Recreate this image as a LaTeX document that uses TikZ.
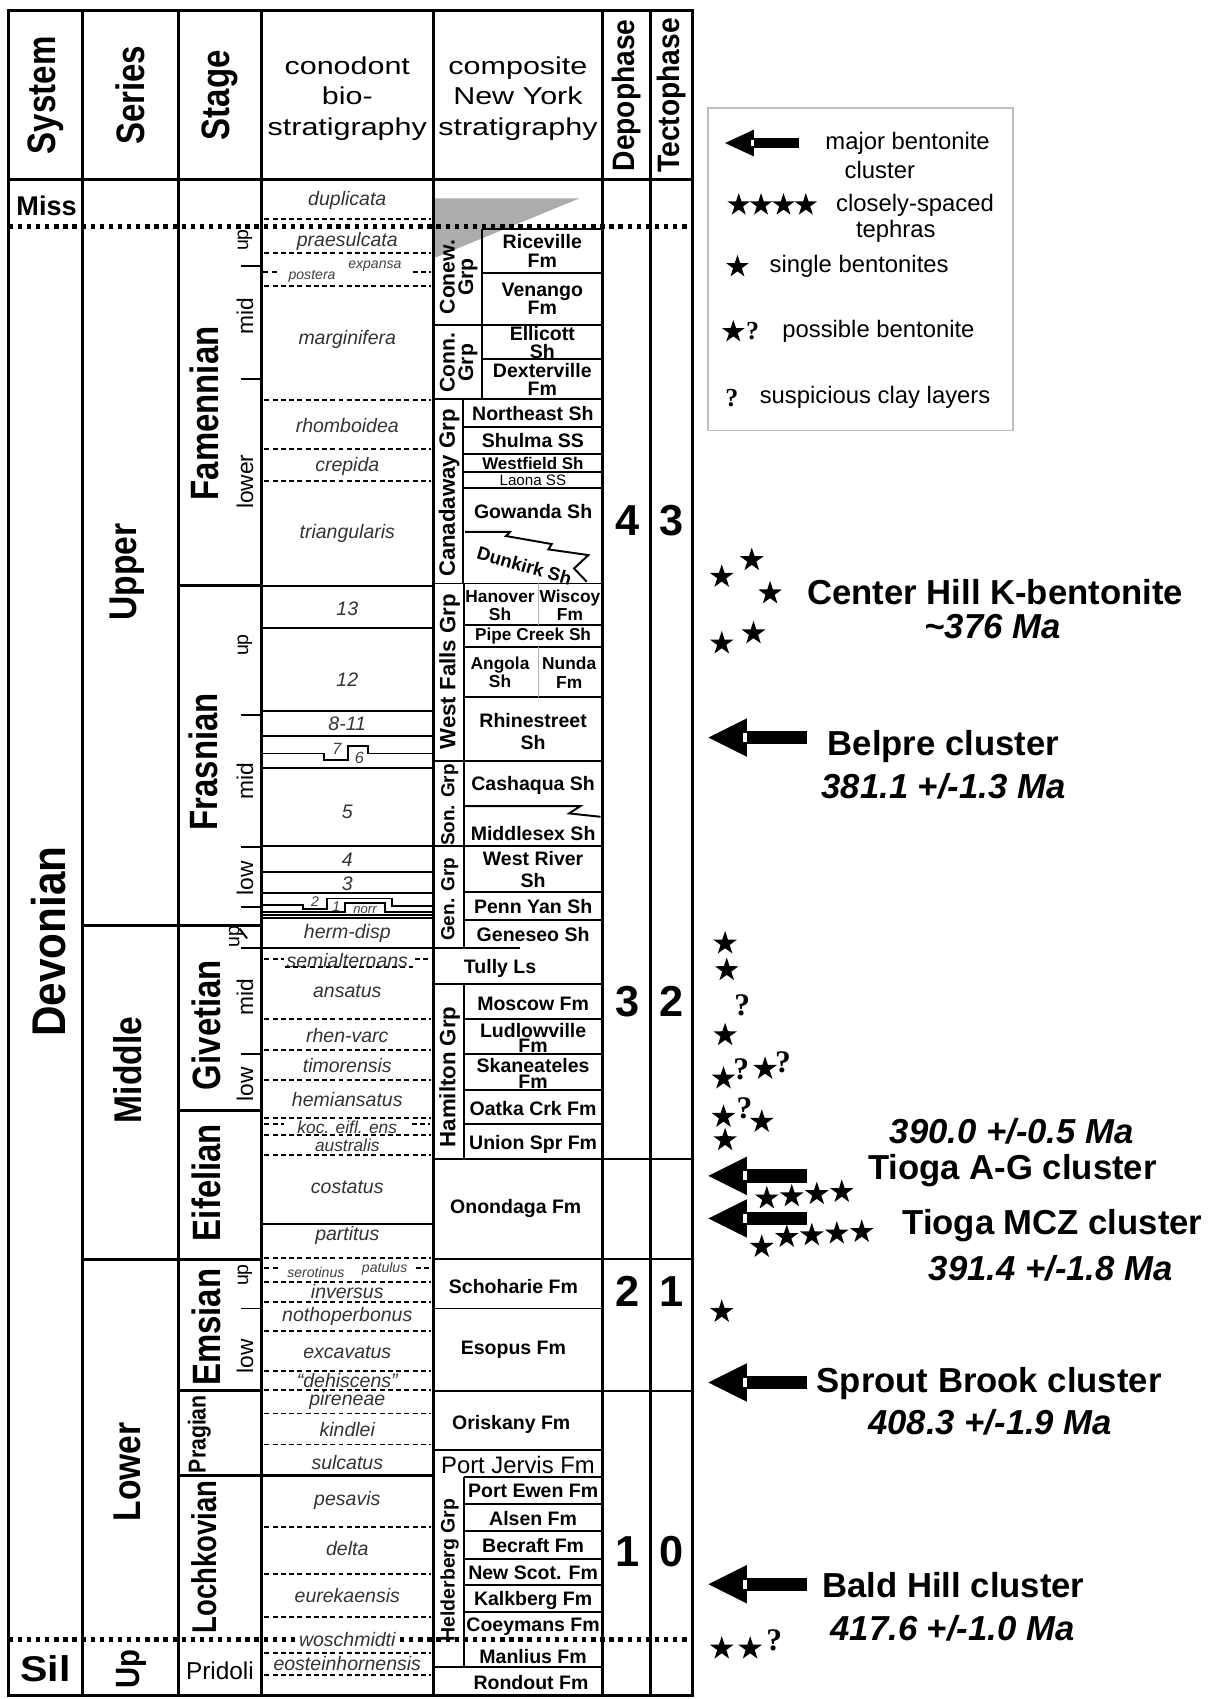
\documentclass[tikz,border=0pt]{standalone}
\usepackage{fontspec}
\setmainfont{Liberation Sans}
\newfontfamily\qmfont{Liberation Serif}
\usetikzlibrary{shapes.geometric}

\newcommand{\fsz}[2]{\fontsize{#1pt}{#2pt}\selectfont}
% cluster arrow: tip x, y, xscale, yscale
\newcommand{\clarrow}[4]{%
  \begin{scope}[shift={(#1,#2)}, xscale=#3, yscale=#4]
    \fill (0,0) -- (35.4,-17.7) -- (35.4,17.7) -- cycle;
    \fill (31,-6.2) rectangle (91,6.2);
    \filldraw[fill=white, draw=black, line width=0.8pt] (31,-4.6) rectangle (35.6,4.6);
  \end{scope}}

\begin{document}
\begin{tikzpicture}[x=1pt, y=-1pt,
  frameline/.style={line width=3pt},
  ruleline/.style={line width=1.8pt},
  hairline/.style={line width=0.8pt, gray!60},
  dotline/.style={line width=4pt, dash pattern=on 4pt off 4.4pt},
  zoneline/.style={line width=1.8pt, dash pattern=on 4.6pt off 3pt},
  hdr/.style={font=\fsz{30.5}{30.5}\bfseries, rotate=90, yscale=1.2, inner sep=0pt},
  colhdr/.style={font=\fsz{22.5}{28.5}, align=center, xscale=1.25, inner sep=0pt},
  phasehdr/.style={font=\fsz{26}{26}\bfseries, rotate=90, yscale=1.1, inner sep=0pt},
  phasenum/.style={font=\fsz{40}{40}\bfseries, inner sep=0pt},
  serieslab/.style={font=\fsz{31}{31}\bfseries, rotate=90, yscale=1.15, inner sep=0pt},
  stagelab/.style={font=\fsz{30.4}{30.4}\bfseries, rotate=90, yscale=1.2, inner sep=0pt},
  sublab/.style={font=\fsz{21}{21}, rotate=90, inner sep=0pt},
  cono/.style={font=\fsz{18}{18}\itshape, text=black!80, inner sep=0.5pt},
  conosm/.style={font=\fsz{13}{13}\itshape, text=black!75, inner sep=0.5pt},
  fmlab/.style={font=\fsz{18}{17}\bfseries, align=center, inner sep=0pt},
  grplab/.style={font=\fsz{20.5}{17}\bfseries, rotate=90, align=center, inner sep=0pt},
  bstar/.style={star, star points=5, star point ratio=2.6, fill=black, inner sep=0pt, minimum size=23pt},
  qmark/.style={font=\qmfont\bfseries\fsz{29}{29}, inner sep=0pt},
  clname/.style={font=\fsz{32}{32}\bfseries, inner sep=0pt},
  clage/.style={font=\fsz{32}{32}\bfseries\itshape, inner sep=0pt},
  legtext/.style={font=\fsz{22}{22}, inner sep=0pt}
]

% --- page ---
\fill[white] (0,0) rectangle (1115,1568);
\useasboundingbox (0,0) rectangle (1115,1568);

% --- grey wedge (Miss.) ---
\fill[gray!65] (401,183) -- (535,183) -- (401,238) -- cycle;

% --- frame and columns ---
\draw[frameline] (8,9.5) rectangle (639,1565);
\foreach \x in {76,165,241,400,556,600}
  \draw[frameline] (\x,9.5) -- (\x,1565);
\draw[frameline] (8,166) -- (639,166);
\draw[dotline] (8,209) -- (639,209);
\draw[dotline] (8,1513) -- (639,1513);

% series and stage boundaries
\draw[frameline] (76,853.8) -- (241,853.8);
\draw[frameline] (76,1162.5) -- (241,1162.5);
\foreach \y in {540.5,1025,1283}
  \draw[frameline] (165,\y) -- (241,\y);
\draw[frameline] (165,1362) -- (400,1362);

% substage ticks
\foreach \y in {245.5,350,660,782,837,875.3,973,1207.6}
  \draw[ruleline] (222,\y) -- (241,\y);
\draw[ruleline] (221,857) -- (228,866);

% --- conodont zones ---
\foreach \y in {541,580,656,679,709,781,805,824,844.6,847.4,875.3,1129.2}
  \draw[ruleline] (241,\y) -- (400,\y);
\foreach \y in {202.4,233.8,264,369.2,414.7,444,940.6,969.2,996.9,1032,1047.4,1066.1,1161.4,1183,1201.5,1228.2,1265.2,1283,1304.5,1333.1,1409.2,1452.2,1492.2,1525.4,1546.1}
  \draw[zoneline] (244,\y) -- (398,\y);
\draw[zoneline] (263,892.8) -- (382,892.8);
\foreach \y/\a/\b/\c/\d in {251/243/258/381/398, 885/244/262/383/396, 1037/244/262/380/397, 1170/244/258/384/397}{
  \draw[zoneline] (\a,\y) -- (\b,\y);
  \draw[zoneline] (\c,\y) -- (\d,\y);
}
% stepped zone boundaries
\draw[ruleline] (241,695.4) -- (298.7,695.4) -- (298.7,701.5) -- (321.4,701.5) -- (321.4,688.3) -- (339.9,688.3) -- (339.9,695.4) -- (400,695.4);
\draw[ruleline] (241,835.4) -- (279.9,835.4) -- (279.9,839) -- (301.6,839) -- (301.6,829.2) -- (361.5,829.2) -- (361.5,836.3) -- (400,836.3);
\draw[ruleline] (241,841.5) -- (318.4,841.5) -- (318.4,833.8) -- (355.4,833.8) -- (355.4,841.5) -- (400,841.5);

% --- New York units ---
\draw[ruleline] (445,211.7) -- (556,211.7);
\draw[ruleline] (445,211.7) -- (445,368);
\foreach \y in {251.7,331.7}
  \draw[ruleline] (445,\y) -- (556,\y);
\foreach \y in {299.7,368,538.5,702.5,781,908.5,1207.6,1338.4,1538.4}
  \draw[ruleline] (400,\y) -- (556,\y);
\foreach \y in {1070,1161.5,1283.5}
  \draw[ruleline] (400,\y) -- (639,\y);
\draw[ruleline] (427.6,368) -- (427.6,538.5);
\foreach \y in {394.4,419,436,450.7}
  \draw[ruleline] (427.6,\y) -- (556,\y);
\draw[ruleline] (428.5,538.5) -- (428.5,875.3);
\draw[ruleline] (428.5,908.5) -- (428.5,1070);
\draw[ruleline] (428.5,1363) -- (428.5,1538.4);
\foreach \y in {577,597,643,823,849,940.6,973,1006,1037.5,1363,1388.2,1413,1438.5,1463.1,1487.7}
  \draw[ruleline] (428.5,\y) -- (556,\y);
\draw[ruleline] (400,875.3) -- (480,875.3);
\draw[hairline] (496.5,538.5) -- (496.5,577);
\draw[hairline] (496.5,597) -- (496.5,643);
% interfingering contacts
\draw[ruleline] (429.2,490.8) -- (470.7,490.8) -- (467,494.7) -- (509.2,502.1) -- (506.1,507) -- (543,512.3) -- (529.8,524.6) -- (541.5,536.9);
\draw[ruleline] (428.5,743.9) -- (535.6,743.9) -- (525.3,750.7) -- (554.2,753.8);

% --- header texts ---
\node[hdr] (hsys) at (42,88) {System};
\node[hdr] (hser) at (120.5,88) {Series};
\node[hdr] (hstg) at (203,88) {Stage};
\node[colhdr] (hcono) at (320.5,91) {conodont\\bio-\\stratigraphy};
\node[colhdr] (hcomp) at (478,91) {composite\\New York\\stratigraphy};
\node[phasehdr] (hdep) at (578,88) {Depophase};
\node[phasehdr] (htec) at (620,88) {Tectophase};

% --- system / series / stage ---
\node[font=\fsz{25}{25}\bfseries] (miss) at (43,190) {Miss};
\node[font=\fsz{39}{39}\bfseries, rotate=90, yscale=1.12, inner sep=0pt] (dev) at (45,869) {Devonian};
\node[font=\fsz{33}{33}\bfseries, xscale=1.15, inner sep=0pt] (sil) at (42,1540) {Sil};
\node[serieslab] (upper) at (117,528) {Upper};
\node[serieslab] (middle) at (118,987.6) {Middle};
\node[serieslab] (lower) at (118,1358.4) {Lower};
\node[font=\fsz{27}{27}\bfseries, rotate=90, yscale=1.15, inner sep=0pt] (silup) at (121,1540) {Up};
\node[stagelab] (fam) at (189,381.5) {Famennian};
\node[stagelab] (fras) at (188,703) {Frasnian};
\node[stagelab] (giv) at (190,946) {Givetian};
\node[stagelab] (eif) at (190,1091.3) {Eifelian};
\node[stagelab] (ems) at (190,1225) {Emsian};
\node[font=\fsz{19.6}{19.6}\bfseries, rotate=90, yscale=1.15, inner sep=0pt] (prag) at (184,1323.6) {Pragian};
\node[font=\fsz{25.4}{25.4}\bfseries, rotate=90, yscale=1.25, inner sep=0pt] (loch) at (188,1436.8) {Lochkovian};
\node[font=\fsz{22.5}{22.5}, inner sep=0pt] (prid) at (203,1541.5) {Pridoli};
% substages
\node[sublab, font=\fsz{18}{18}] (famup) at (226,221.5) {up};
\node[sublab] (fammid) at (226,292) {mid};
\node[sublab] (famlow) at (226,444.6) {lower};
\node[sublab, font=\fsz{18}{18}] (frasup) at (226,595.3) {up};
\node[sublab] (frasmid) at (226,720.6) {mid};
\node[sublab] (fraslow) at (226,810.7) {low};
\node[sublab, font=\fsz{18}{18}] (givup) at (218,864.6) {up};
\node[sublab] (givmid) at (226,920.5) {mid};
\node[sublab] (givlow) at (226,1000.6) {low};
\node[sublab, font=\fsz{18}{18}] (emsup) at (226,1176.8) {up};
\node[sublab] (emslow) at (226,1251.6) {low};

% --- conodont zone names ---
\foreach \t/\y [count=\i] in {duplicata/185.2, praesulcata/223, marginifera/313.2, rhomboidea/392.3,
    crepida/430.1, triangularis/492.3, 13/561.5, 12/627.6, 8-11/668.3, 5/749.2, 4/793.8, 3/815.3,
    herm-disp/861.5, semialternans/886, ansatus/914.4, rhen-varc/955.3, timorensis/983,
    hemiansatus/1014.7, costatus/1095.3, partitus/1139.9, inversus/1192.2, nothoperbonus/1215.3,
    excavatus/1247.6, ``dehiscens''/1273.8, pireneae/1292.8, kindlei/1319.3, sulcatus/1350.1,
    pesavis/1384.5, delta/1429.1, eurekaensis/1472.2, eosteinhornensis/1535.3}
  \node[cono] (cz\i) at (320.5,\y) {\t};
\node[cono, fill=white] (czwo) at (320.5,1513) {woschmidti};
\node[cono, font=\fsz{16}{16}\itshape] (czkoc) at (320.5,1040) {koc. eifl. ens};
\node[cono, font=\fsz{16}{16}\itshape] (czaus) at (320.5,1056.9) {australis};
\node[conosm] (czpost) at (288,254.7) {postera};
\node[conosm] (czexp) at (346,245.5) {expansa};
\node[conosm] (czsero) at (291.5,1174.7) {serotinus};
\node[conosm] (czpat) at (355,1170.7) {patulus};
\node[conosm, font=\fsz{15}{15}\itshape] (cz7) at (311,690.8) {7};
\node[conosm, font=\fsz{15}{15}\itshape] (cz6) at (331.7,699.5) {6};
\node[conosm] (cz2) at (290.8,831.8) {2};
\node[conosm] (cz1) at (310.3,836.5) {1};
\node[conosm, font=\fsz{12}{12}\itshape] (cznorr) at (336.9,839.5) {norr};

% --- group names ---
\node[grplab, font=\fsz{19.5}{17}\bfseries] (conew) at (423.3,255.7) {Conew.\\Grp};
\node[grplab, font=\fsz{19.5}{17}\bfseries] (conn) at (423.3,334.8) {Conn.\\Grp};
\node[grplab] (canad) at (414.6,455) {Canadaway Grp};
\node[grplab] (wfalls) at (415,620) {West Falls Grp};
\node[grplab, font=\fsz{17.5}{17.5}\bfseries] (sonyea) at (415,742.9) {Son. Grp};
\node[grplab, font=\fsz{17.5}{17.5}\bfseries] (genesee) at (415,830) {Gen. Grp};
\node[grplab] (hamil) at (415,993.8) {Hamilton Grp};
\node[grplab, font=\fsz{18}{18}\bfseries] (helder) at (415,1449) {Helderberg Grp};

% --- formation names ---
\node[fmlab] (rice) at (500.5,231.7) {Riceville\\Fm};
\node[fmlab] (venan) at (500.5,275.7) {Venango\\Fm};
\node[fmlab] (ellic) at (500.5,316) {Ellicott\\Sh};
\node[fmlab] (dexter) at (500.5,350) {Dexterville\\Fm};
\node[fmlab] (neast) at (491.8,381.5) {Northeast Sh};
\node[fmlab] (shulma) at (491.8,406.7) {Shulma SS};
\node[fmlab, font=\fsz{15.6}{15.6}\bfseries] (westf) at (491.8,427.5) {Westfield Sh};
\node[fmlab, font=\fsz{14}{14}] (laona) at (491.8,443.4) {Laona SS};
\node[fmlab] (gowanda) at (492,472.5) {Gowanda Sh};
\node[fmlab, font=\fsz{17}{17}\bfseries, rotate=-16] (dunkirk) at (484,522) {Dunkirk Sh};
\node[fmlab, font=\fsz{16}{17}\bfseries] (hanover) at (461.5,558.8) {Hanover\\Sh};
\node[fmlab, font=\fsz{16}{17}\bfseries] (wiscoy) at (526,558.8) {Wiscoy\\Fm};
\node[fmlab, font=\fsz{15.9}{15.9}\bfseries] (pipec) at (492,587) {Pipe Creek Sh};
\node[fmlab, font=\fsz{16}{17}\bfseries] (angola) at (461.5,620.7) {Angola\\Sh};
\node[fmlab, font=\fsz{16}{17}\bfseries] (nunda) at (525.3,620.7) {Nunda\\Fm};
\node[fmlab, font=\fsz{18}{20.3}\bfseries] (rhine) at (492,675.4) {Rhinestreet\\Sh};
\node[fmlab] (cashaq) at (492,724.6) {Cashaqua Sh};
\node[fmlab] (middlx) at (492,769.2) {Middlesex Sh};
\node[fmlab, font=\fsz{18}{20}\bfseries] (wriver) at (492,802.3) {West River\\Sh};
\node[fmlab] (pyan) at (492,836.8) {Penn Yan Sh};
\node[fmlab] (genes) at (492,862.9) {Geneseo Sh};
\node[fmlab] (tully) at (461.5,893.8) {Tully Ls};
\node[fmlab] (moscow) at (492,926.7) {Moscow Fm};
\node[fmlab, font=\fsz{18}{14.3}\bfseries] (ludlow) at (492,957.9) {Ludlowville\\Fm};
\node[fmlab, font=\fsz{18}{15}\bfseries] (skan) at (492,990.5) {Skaneateles\\Fm};
\node[fmlab] (oatka) at (492,1023) {Oatka Crk Fm};
\node[fmlab] (unionspr) at (492,1055.9) {Union Spr Fm};
\node[fmlab] (onond) at (476,1115.3) {Onondaga Fm};
\node[fmlab] (schoh) at (473.8,1187.5) {Schoharie Fm};
\node[fmlab] (esopus) at (473.8,1246.1) {Esopus Fm};
\node[fmlab] (orisk) at (471.8,1315) {Oriskany Fm};
\node[fmlab, font=\fsz{22}{22}] (pjervis) at (478,1351.6) {Port Jervis Fm};
\node[fmlab] (pewen) at (492,1376) {Port Ewen Fm};
\node[fmlab] (alsen) at (492,1401.5) {Alsen Fm};
\node[fmlab] (becraft) at (492,1426.6) {Becraft Fm};
\node[fmlab] (newscot) at (492,1451.6) {New Scot. Fm};
\node[fmlab] (kalk) at (492,1476.8) {Kalkberg Fm};
\node[fmlab] (coey) at (492,1500.9) {Coeymans Fm};
\node[fmlab] (manlius) at (492,1528.5) {Manlius Fm};
\node[fmlab] (rondout) at (490,1553) {Rondout Fm};

% --- depophases and tectophases ---
\node[phasenum] (dp4) at (579,480.6) {4};
\node[phasenum] (tp3) at (619.5,480.6) {3};
\node[phasenum] (dp3) at (579,924) {3};
\node[phasenum] (tp2) at (619.5,924) {2};
\node[phasenum] (dp2) at (579,1192) {2};
\node[phasenum] (tp1) at (619.5,1192) {1};
\node[phasenum] (dp1) at (579,1432) {1};
\node[phasenum] (tp0) at (619.5,1432) {0};

% --- legend ---
\draw[gray!50, line width=1.2pt] (653.5,99.8) rectangle (935,397);
\clarrow{669.2}{132}{0.75}{0.7}
\node[legtext] (lg1) at (837.6,132.3) {major bentonite};
\node[legtext] (lg1b) at (812,157) {cluster};
\foreach \x [count=\i] in {681.8,702.4,723.1,743.7}
  \node[bstar, minimum size=22pt] (lgs\i) at (\x,189.2) {};
\node[legtext] (lg2) at (844.5,189.7) {closely-spaced};
\node[legtext] (lg2b) at (826.7,213.8) {tephras};
\node[bstar, minimum size=22pt] (lgs5) at (680.6,246.2) {};
\node[legtext] (lg3) at (792.9,246) {single bentonites};
\node[bstar, minimum size=22pt] (lgs6) at (676.8,306.2) {};
\node[qmark, font=\qmfont\bfseries\fsz{24}{24}] (lgq1) at (694.5,306) {?};
\node[legtext] (lg4) at (810.7,306) {possible bentonite};
\node[qmark, font=\qmfont\bfseries\fsz{24}{24}] (lgq2) at (675.4,367.6) {?};
\node[legtext] (lg5) at (807.6,367) {suspicious clay layers};

% --- cluster arrows ---
\clarrow{653.8}{680.7}{1}{1}
\clarrow{653.8}{1085.2}{1}{1}
\clarrow{653.8}{1124.5}{1}{1}
\clarrow{653.8}{1275.9}{1}{1}
\clarrow{653.8}{1462.1}{1}{1}

% --- bentonites ---
\foreach \x/\y [count=\i] in {666.1/532.3, 693.8/516.9, 710.7/547.6, 666.1/593.8, 695.4/584.5,
    669.2/870.7, 670.7/895.3, 669.2/955.3, 667.7/995.3, 706.1/986.4, 667.7/1030.7, 703/1035.3,
    669.2/1052.2, 707.7/1106, 730.7/1104, 753.8/1102, 776.9/1100, 703/1150.7, 726.1/1141.5,
    749.2/1140, 772.3/1138.4, 795.3/1136.9, 666.1/1210.7, 666.1/1521.4, 692.3/1521.4}
  \node[bstar] (bs\i) at (\x,\y) {};
\foreach \x/\y [count=\i] in {685/927.6, 684/986.4, 722.5/980, 687/1023, 714.5/1513.7}
  \node[qmark] (bq\i) at (\x,\y) {?};

% --- cluster names and ages ---
\node[clname] (chill) at (918.4,546.1) {Center Hill K-bentonite};
\node[clage] (chage) at (915.9,578.4) {\textasciitilde376 Ma};
\node[clname] (belpre) at (870.7,689.2) {Belpre cluster};
\node[clage] (bpage) at (870.7,726.1) {381.1 +/-1.3 Ma};
\node[clage] (agage) at (933.8,1044.5) {390.0 +/-0.5 Ma};
\node[clname] (tioag) at (934.4,1080) {Tioga A-G cluster};
\node[clname] (tiomcz) at (971.3,1130.7) {Tioga MCZ cluster};
\node[clage] (mczage) at (969.8,1170.7) {391.4 +/-1.8 Ma};
\node[clname] (sprout) at (912.9,1276.8) {Sprout Brook cluster};
\node[clage] (spage) at (913.8,1312.2) {408.3 +/-1.9 Ma};
\node[clname] (bald) at (879.9,1463) {Bald Hill cluster};
\node[clage] (bhage) at (879,1503) {417.6 +/-1.0 Ma};

\end{tikzpicture}
\end{document}
